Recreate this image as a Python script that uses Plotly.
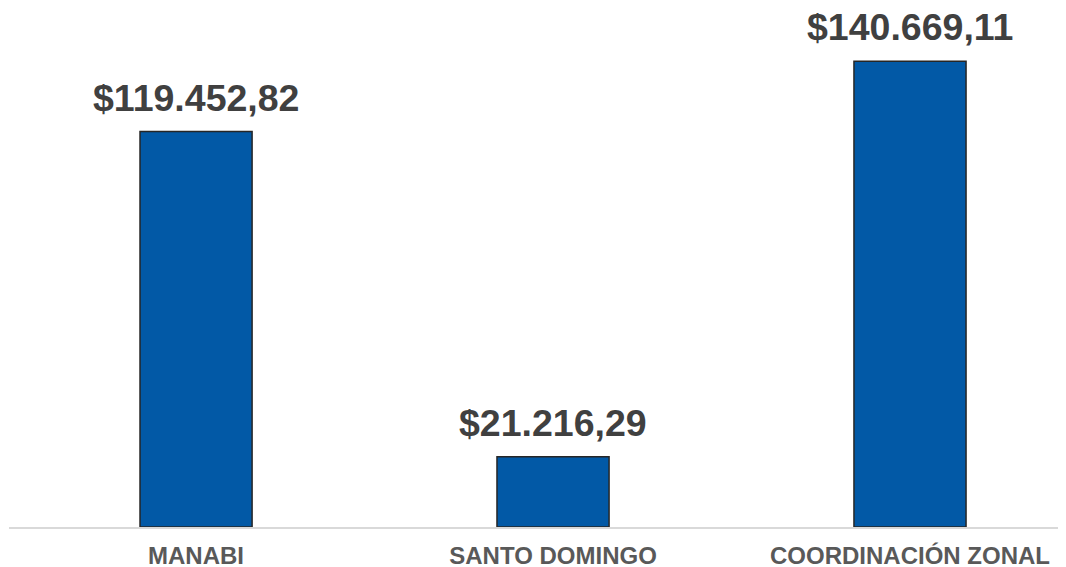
import plotly.graph_objects as go

categories = ["MANABI", "SANTO DOMINGO", "COORDINACIÓN ZONAL"]
values = [119452.82, 21216.29, 140669.11]
value_labels = ["$119.452,82", "$21.216,29", "$140.669,11"]

fig = go.Figure(go.Bar(
    x=categories,
    y=values,
    width=0.314,
    marker=dict(color="#0259A6", line=dict(color="#262626", width=1.5)),
    hoverinfo="skip",
))

for cat, val, lab in zip(categories, values, value_labels):
    fig.add_annotation(
        x=cat, y=val, text=f"<b>{lab}</b>", showarrow=False,
        yanchor="bottom", yshift=12, borderpad=0,
        font=dict(family="Liberation Sans, Arial", size=37.5, color="#404040"),
    )

fig.update_layout(
    width=1066, height=567,
    margin=dict(l=1, r=8, t=0, b=48),
    plot_bgcolor="white", paper_bgcolor="white",
    showlegend=False,
    font=dict(family="Liberation Sans, Arial"),
)
fig.update_xaxes(
    range=[-0.524, 2.437],
    showline=True, linecolor="#D9D9D9", linewidth=2,
    showgrid=False, ticks="",
    ticktext=[f"<b>{c}</b>" for c in categories], tickvals=categories,
    ticklabelstandoff=6,
    tickfont=dict(size=24, color="#595959", family="Liberation Sans, Arial"),
)
fig.update_yaxes(range=[0, 156790], visible=False)

fig.write_html("out.html")
